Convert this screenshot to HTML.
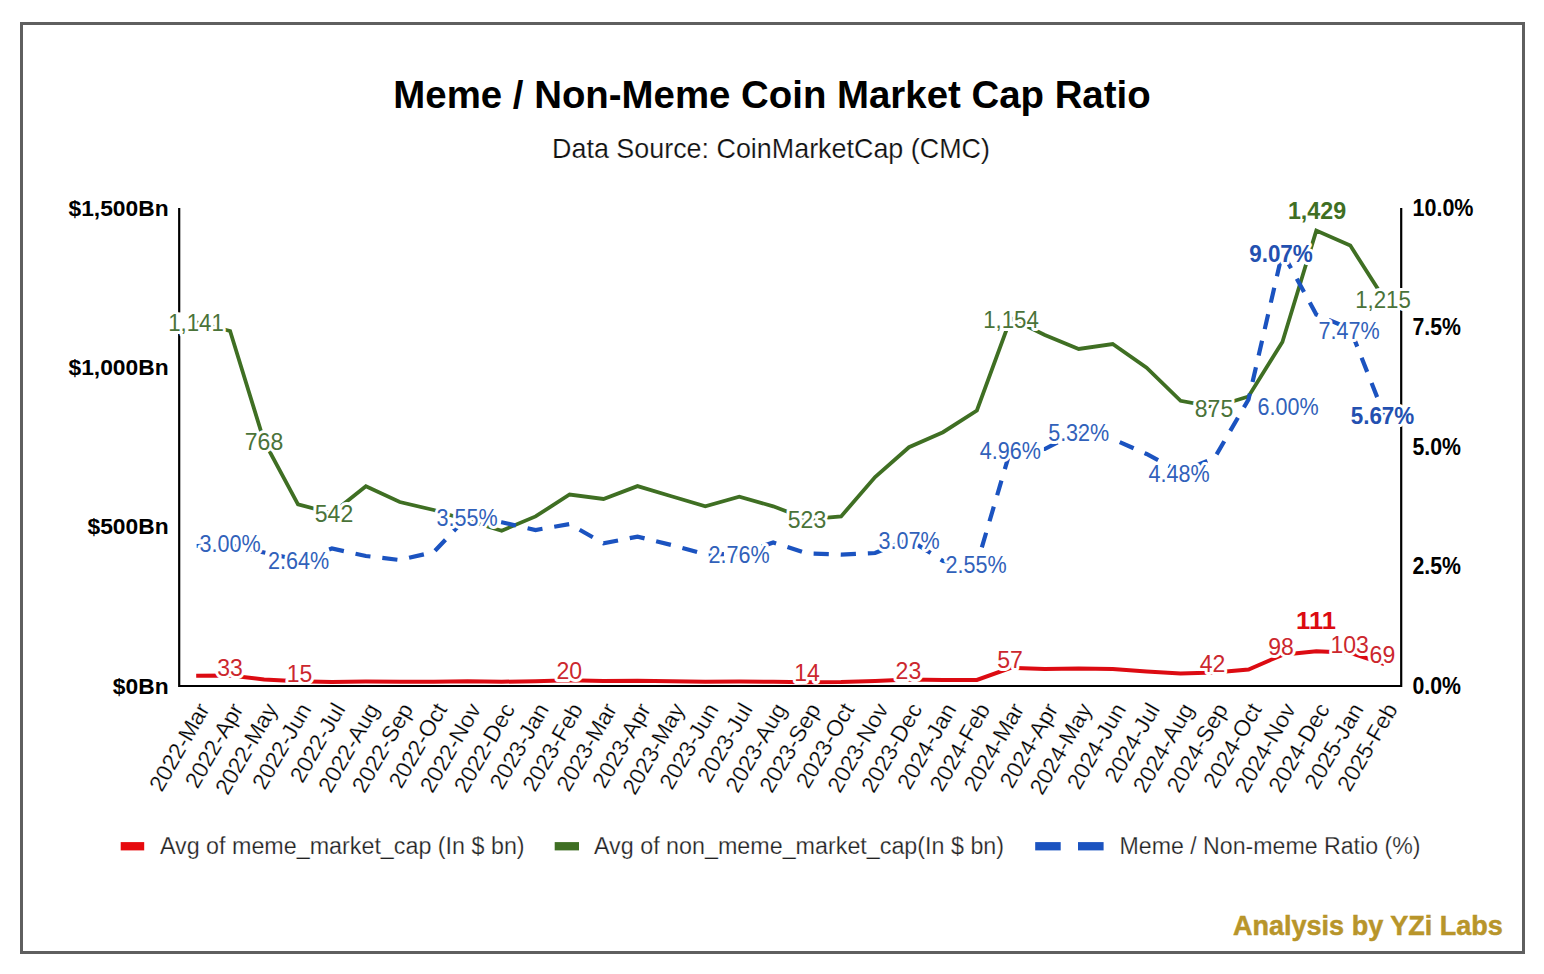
<!DOCTYPE html>
<html><head><meta charset="utf-8">
<style>
html,body{margin:0;padding:0;background:#fff;}
body{width:1544px;height:974px;position:relative;overflow:hidden;font-family:"Liberation Sans",sans-serif;}
.frame{position:absolute;left:19.5px;top:22px;width:1505.5px;height:932px;box-sizing:border-box;border:3px solid #5f5f5f;}
svg{position:absolute;left:0;top:0;}
svg text{font-family:"Liberation Sans",sans-serif;}
</style></head><body>
<div class="frame"></div>
<svg width="1544" height="974" viewBox="0 0 1544 974">
<text x="772" y="107.8" text-anchor="middle" font-weight="bold" font-size="38.4">Meme / Non-Meme Coin Market Cap Ratio</text>
<text x="771" y="157.6" text-anchor="middle" font-size="26.9" fill="#111" stroke="#fff" stroke-width="0.2">Data Source: CoinMarketCap (CMC)</text>
<path d="M179.2 208 V686 H1401.2 V208" fill="none" stroke="#000" stroke-width="2.2"/>
<rect x="176" y="312.4" width="6" height="21.3" fill="#fff"/>
<polyline points="196.2,322.4 230.1,331.0 264.1,441.2 298.0,504.3 331.9,513.3 365.9,486.3 399.8,502.0 433.8,510.0 467.7,520.5 501.7,530.7 535.6,516.4 569.6,494.5 603.5,499.0 637.5,486.1 671.4,496.2 705.3,506.3 739.3,496.7 773.2,506.3 807.2,519.3 841.1,516.4 875.1,477.0 909.0,447.2 943.0,432.2 976.9,410.5 1010.8,318.2 1044.8,335.0 1078.7,349.0 1112.7,344.0 1146.6,367.7 1180.6,400.8 1214.5,407.1 1248.5,396.5 1282.4,342.0 1316.3,230.6 1350.3,245.6 1384.2,298.8" fill="none" stroke="#3f6f23" stroke-width="3.8"/>
<polyline points="196.2,546.0 230.1,545.0 264.1,552.5 298.0,559.8 331.9,548.5 365.9,556.0 399.8,560.0 433.8,552.0 467.7,516.3 501.7,522.3 535.6,530.0 569.6,524.0 603.5,543.4 637.5,536.6 671.4,545.0 705.3,554.3 739.3,554.1 773.2,542.5 807.2,553.5 841.1,554.6 875.1,553.0 909.0,539.3 943.0,561.0 976.9,564.1 1010.8,448.9 1044.8,449.0 1078.7,431.7 1112.7,439.0 1146.6,454.0 1180.6,471.8 1214.5,458.0 1248.5,399.5 1282.4,252.5 1316.3,314.5 1350.3,329.0 1384.2,415.0" fill="none" stroke="#1b53c0" stroke-width="4.2" stroke-dasharray="15.2 11.94" stroke-dashoffset="-0.5"/>
<polyline points="196.2,675.7 230.1,675.5 264.1,679.5 298.0,681.2 331.9,682.0 365.9,681.5 399.8,681.7 433.8,681.7 467.7,681.2 501.7,681.7 535.6,681.3 569.6,680.3 603.5,681.1 637.5,680.7 671.4,681.2 705.3,681.7 739.3,681.5 773.2,681.7 807.2,682.2 841.1,682.0 875.1,681.0 909.0,679.5 943.0,680.0 976.9,680.0 1010.8,667.8 1044.8,669.0 1078.7,668.5 1112.7,669.0 1146.6,671.5 1180.6,673.6 1214.5,672.6 1248.5,669.5 1282.4,654.8 1316.3,651.3 1350.3,652.8 1384.2,664.0" fill="none" stroke="#dc0b12" stroke-width="4"/>
<g font-size="23.2" text-anchor="middle" stroke="#fff" stroke-width="6" paint-order="stroke" stroke-linejoin="round"><text x="196" y="331.3" fill="#4a7339" textLength="55.7" lengthAdjust="spacingAndGlyphs">1,141</text><text x="264" y="450.0" fill="#4a7339" textLength="38.4" lengthAdjust="spacingAndGlyphs">768</text><text x="334" y="521.5" fill="#4a7339" textLength="38.4" lengthAdjust="spacingAndGlyphs">542</text><text x="807" y="528.3" fill="#4a7339" textLength="38.4" lengthAdjust="spacingAndGlyphs">523</text><text x="1011" y="327.7" fill="#4a7339" textLength="55.7" lengthAdjust="spacingAndGlyphs">1,154</text><text x="1214" y="416.8" fill="#4a7339" textLength="38.4" lengthAdjust="spacingAndGlyphs">875</text><text x="1383" y="308.3" fill="#4a7339" textLength="55.7" lengthAdjust="spacingAndGlyphs">1,215</text><text x="1317" y="219.3" fill="#3f6f23" font-weight="bold" textLength="58.2" lengthAdjust="spacingAndGlyphs">1,429</text><text x="230" y="552.3" fill="#3161ba" textLength="61.1" lengthAdjust="spacingAndGlyphs">3.00%</text><text x="298.5" y="569.3" fill="#3161ba" textLength="61.1" lengthAdjust="spacingAndGlyphs">2.64%</text><text x="467" y="526.3" fill="#3161ba" textLength="61.1" lengthAdjust="spacingAndGlyphs">3.55%</text><text x="739" y="563.3" fill="#3161ba" textLength="61.1" lengthAdjust="spacingAndGlyphs">2.76%</text><text x="909" y="548.7" fill="#3161ba" textLength="61.1" lengthAdjust="spacingAndGlyphs">3.07%</text><text x="976" y="573.1" fill="#3161ba" textLength="61.1" lengthAdjust="spacingAndGlyphs">2.55%</text><text x="1010.3" y="458.9" fill="#3161ba" textLength="61.1" lengthAdjust="spacingAndGlyphs">4.96%</text><text x="1078.7" y="440.5" fill="#3161ba" textLength="61.1" lengthAdjust="spacingAndGlyphs">5.32%</text><text x="1179" y="481.7" fill="#3161ba" textLength="61.1" lengthAdjust="spacingAndGlyphs">4.48%</text><text x="1288" y="415.3" fill="#3161ba" textLength="61.1" lengthAdjust="spacingAndGlyphs">6.00%</text><text x="1349" y="339.3" fill="#3161ba" textLength="61.1" lengthAdjust="spacingAndGlyphs">7.47%</text><text x="1281" y="261.8" fill="#2350b0" font-weight="bold" textLength="63.6" lengthAdjust="spacingAndGlyphs">9.07%</text><text x="1382.5" y="424.1" fill="#2350b0" font-weight="bold" textLength="63.6" lengthAdjust="spacingAndGlyphs">5.67%</text><text x="230" y="676.3" fill="#cc272e" textLength="25.6" lengthAdjust="spacingAndGlyphs">33</text><text x="299.5" y="682.0" fill="#cc272e" textLength="25.6" lengthAdjust="spacingAndGlyphs">15</text><text x="569.2" y="679.4" fill="#cc272e" textLength="25.6" lengthAdjust="spacingAndGlyphs">20</text><text x="807" y="680.9" fill="#cc272e" textLength="25.6" lengthAdjust="spacingAndGlyphs">14</text><text x="908.4" y="678.5" fill="#cc272e" textLength="25.6" lengthAdjust="spacingAndGlyphs">23</text><text x="1010" y="667.9" fill="#cc272e" textLength="25.6" lengthAdjust="spacingAndGlyphs">57</text><text x="1212.6" y="672.3" fill="#cc272e" textLength="25.6" lengthAdjust="spacingAndGlyphs">42</text><text x="1281" y="654.5" fill="#cc272e" textLength="25.6" lengthAdjust="spacingAndGlyphs">98</text><text x="1349.6" y="653.0" fill="#cc272e" textLength="38.4" lengthAdjust="spacingAndGlyphs">103</text><text x="1382.4" y="663.4" fill="#cc272e" textLength="25.6" lengthAdjust="spacingAndGlyphs">69</text><text x="1316" y="629.3" fill="#dc0b12" font-weight="bold" textLength="39.8" lengthAdjust="spacingAndGlyphs">111</text></g>
<text x="168.6" y="215.6" text-anchor="end" font-weight="bold" font-size="22.8">$1,500Bn</text>
<text x="168.6" y="374.9" text-anchor="end" font-weight="bold" font-size="22.8">$1,000Bn</text>
<text x="168.6" y="534.3" text-anchor="end" font-weight="bold" font-size="22.8">$500Bn</text>
<text x="168.6" y="693.6" text-anchor="end" font-weight="bold" font-size="22.8">$0Bn</text>
<text x="1412.5" y="215.9" text-anchor="start" font-weight="bold" font-size="23.8" textLength="61" lengthAdjust="spacingAndGlyphs">10.0%</text>
<text x="1412.5" y="335.4" text-anchor="start" font-weight="bold" font-size="23.8" textLength="48.5" lengthAdjust="spacingAndGlyphs">7.5%</text>
<text x="1412.5" y="454.9" text-anchor="start" font-weight="bold" font-size="23.8" textLength="48.5" lengthAdjust="spacingAndGlyphs">5.0%</text>
<text x="1412.5" y="574.4" text-anchor="start" font-weight="bold" font-size="23.8" textLength="48.5" lengthAdjust="spacingAndGlyphs">2.5%</text>
<text x="1412.5" y="693.9" text-anchor="start" font-weight="bold" font-size="23.8" textLength="48.5" lengthAdjust="spacingAndGlyphs">0.0%</text>
<g font-size="22.7" fill="#000" stroke="#fff" stroke-width="0.25"><text transform="translate(210.2,709) rotate(-60)" text-anchor="end">2022-Mar</text><text transform="translate(244.1,709) rotate(-60)" text-anchor="end">2022-Apr</text><text transform="translate(278.1,709) rotate(-60)" text-anchor="end">2022-May</text><text transform="translate(312.0,709) rotate(-60)" text-anchor="end">2022-Jun</text><text transform="translate(345.9,709) rotate(-60)" text-anchor="end">2022-Jul</text><text transform="translate(379.9,709) rotate(-60)" text-anchor="end">2022-Aug</text><text transform="translate(413.8,709) rotate(-60)" text-anchor="end">2022-Sep</text><text transform="translate(447.8,709) rotate(-60)" text-anchor="end">2022-Oct</text><text transform="translate(481.7,709) rotate(-60)" text-anchor="end">2022-Nov</text><text transform="translate(515.7,709) rotate(-60)" text-anchor="end">2022-Dec</text><text transform="translate(549.6,709) rotate(-60)" text-anchor="end">2023-Jan</text><text transform="translate(583.6,709) rotate(-60)" text-anchor="end">2023-Feb</text><text transform="translate(617.5,709) rotate(-60)" text-anchor="end">2023-Mar</text><text transform="translate(651.5,709) rotate(-60)" text-anchor="end">2023-Apr</text><text transform="translate(685.4,709) rotate(-60)" text-anchor="end">2023-May</text><text transform="translate(719.3,709) rotate(-60)" text-anchor="end">2023-Jun</text><text transform="translate(753.3,709) rotate(-60)" text-anchor="end">2023-Jul</text><text transform="translate(787.2,709) rotate(-60)" text-anchor="end">2023-Aug</text><text transform="translate(821.2,709) rotate(-60)" text-anchor="end">2023-Sep</text><text transform="translate(855.1,709) rotate(-60)" text-anchor="end">2023-Oct</text><text transform="translate(889.1,709) rotate(-60)" text-anchor="end">2023-Nov</text><text transform="translate(923.0,709) rotate(-60)" text-anchor="end">2023-Dec</text><text transform="translate(957.0,709) rotate(-60)" text-anchor="end">2024-Jan</text><text transform="translate(990.9,709) rotate(-60)" text-anchor="end">2024-Feb</text><text transform="translate(1024.8,709) rotate(-60)" text-anchor="end">2024-Mar</text><text transform="translate(1058.8,709) rotate(-60)" text-anchor="end">2024-Apr</text><text transform="translate(1092.7,709) rotate(-60)" text-anchor="end">2024-May</text><text transform="translate(1126.7,709) rotate(-60)" text-anchor="end">2024-Jun</text><text transform="translate(1160.6,709) rotate(-60)" text-anchor="end">2024-Jul</text><text transform="translate(1194.6,709) rotate(-60)" text-anchor="end">2024-Aug</text><text transform="translate(1228.5,709) rotate(-60)" text-anchor="end">2024-Sep</text><text transform="translate(1262.5,709) rotate(-60)" text-anchor="end">2024-Oct</text><text transform="translate(1296.4,709) rotate(-60)" text-anchor="end">2024-Nov</text><text transform="translate(1330.3,709) rotate(-60)" text-anchor="end">2024-Dec</text><text transform="translate(1364.3,709) rotate(-60)" text-anchor="end">2025-Jan</text><text transform="translate(1398.2,709) rotate(-60)" text-anchor="end">2025-Feb</text></g>
<rect x="120.7" y="842.1" width="23.5" height="8.3" fill="#e60a0e"/>
<text x="159.9" y="853.9" font-size="23.3" fill="#222" stroke="#fff" stroke-width="0.25">Avg of meme_market_cap (In $ bn)</text>
<rect x="554.7" y="842.1" width="24.3" height="8.3" fill="#3f6f23"/>
<text x="594" y="853.9" font-size="23.3" fill="#222" stroke="#fff" stroke-width="0.25">Avg of non_meme_market_cap(In $ bn)</text>
<rect x="1035.2" y="842.1" width="25.5" height="8.3" fill="#1b53c0"/>
<rect x="1078" y="842.1" width="25.6" height="8.3" fill="#1b53c0"/>
<text x="1119.5" y="853.9" font-size="23.3" fill="#222" stroke="#fff" stroke-width="0.25" textLength="301" lengthAdjust="spacingAndGlyphs">Meme / Non-meme Ratio (%)</text>
<text x="1502.7" y="935.4" text-anchor="end" font-weight="bold" font-size="27" fill="#b8952a" stroke="#b8952a" stroke-width="0.5">Analysis by YZi Labs</text>
</svg>
</body></html>
